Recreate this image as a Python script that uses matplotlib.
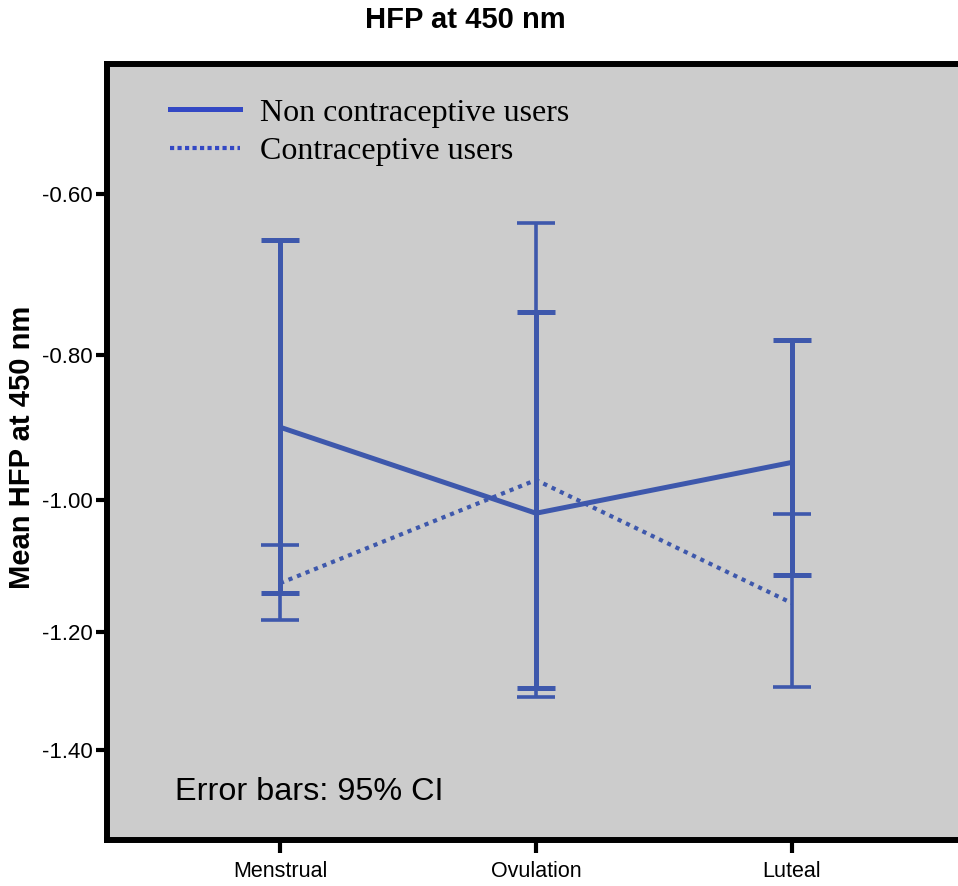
import numpy as np
import matplotlib
matplotlib.use("Agg")
import matplotlib.pyplot as plt
from matplotlib.lines import Line2D

# data
phases = ["Menstrual", "Ovulation", "Luteal"]
non_users_mean = [-0.897, -1.019, -0.946]
non_users_ci = [0.242, 0.274, 0.166]
users_mean = [-1.124, -0.971, -1.155]
users_ci = [0.058, 0.337, 0.135]
yticks = [-0.60, -0.80, -1.00, -1.20, -1.40]

col = "#3E58AC"
legend_col = "#3348C4"


def fwd(v):
    return np.exp(np.asarray(v) / 2.0)


def inv(u):
    return 2.0 * np.log(np.clip(np.asarray(u), 1e-9, None))


fig = plt.figure(figsize=(9.58, 8.86), dpi=100)
ax = fig.add_axes([107 / 958, 1 - 840 / 886, (965 - 107) / 958, (840 - 64) / 886])
ax.set_facecolor("#CCCCCC")

x = np.arange(len(phases))

ax.plot(x, non_users_mean, color=col, lw=3.6, solid_capstyle="butt", zorder=3)
ax.plot(x, users_mean, color=col, lw=3.0, ls=(0, (1, 1.2)), zorder=3)
ax.errorbar(x, non_users_mean, yerr=non_users_ci, fmt="none", ecolor=col,
            elinewidth=3.6, capsize=14, capthick=3.6, zorder=4)
ax.errorbar(x, users_mean, yerr=users_ci, fmt="none", ecolor=col,
            elinewidth=2.6, capsize=14, capthick=2.6, zorder=4)

ax.set_yscale("function", functions=(fwd, inv))
ax.set_ylim(-1.565, -0.451)
ax.set_xlim(-0.676, 2.676)

ax.set_yticks(yticks)
ax.set_yticklabels(["%.2f" % t for t in yticks], fontsize=16, family="Liberation Sans")
ax.set_xticks(x)
ax.set_xticklabels(phases, fontsize=15.5, family="Liberation Sans")
ax.yaxis.set_minor_locator(plt.NullLocator())
ax.tick_params(axis="y", direction="out", length=8, width=3, pad=2)
ax.tick_params(axis="x", direction="out", length=9, width=3, pad=6)

for s in ax.spines.values():
    s.set_linewidth(4.3)
    s.set_color("black")

handles = [Line2D([], [], color=legend_col, lw=3.6),
           Line2D([], [], color=legend_col, lw=3.0, ls=(0, (1, 0.8)))]
ax.legend(handles, ["Non contraceptive users", "Contraceptive users"],
          loc="upper left", bbox_to_anchor=(0.04, 0.993), frameon=False,
          prop={"family": "Liberation Serif", "size": 23},
          handlelength=2.2, handletextpad=0.6, labelspacing=0.3)

ax.text(0.079, 0.0515, "Error bars: 95% CI", transform=ax.transAxes,
        fontsize=23.3, family="Liberation Sans", va="baseline", ha="left")

fig.text(465 / 958, 1 - 20 / 886, "HFP at 450 nm", ha="center", va="center",
         fontsize=21, fontweight="bold", family="Liberation Sans")
fig.text(22 / 958, 1 - 447 / 886, "Mean HFP at 450 nm", ha="center", va="center",
         rotation=90, fontsize=21, fontweight="bold", family="Liberation Sans")

fig.savefig("out.png", dpi=100)
